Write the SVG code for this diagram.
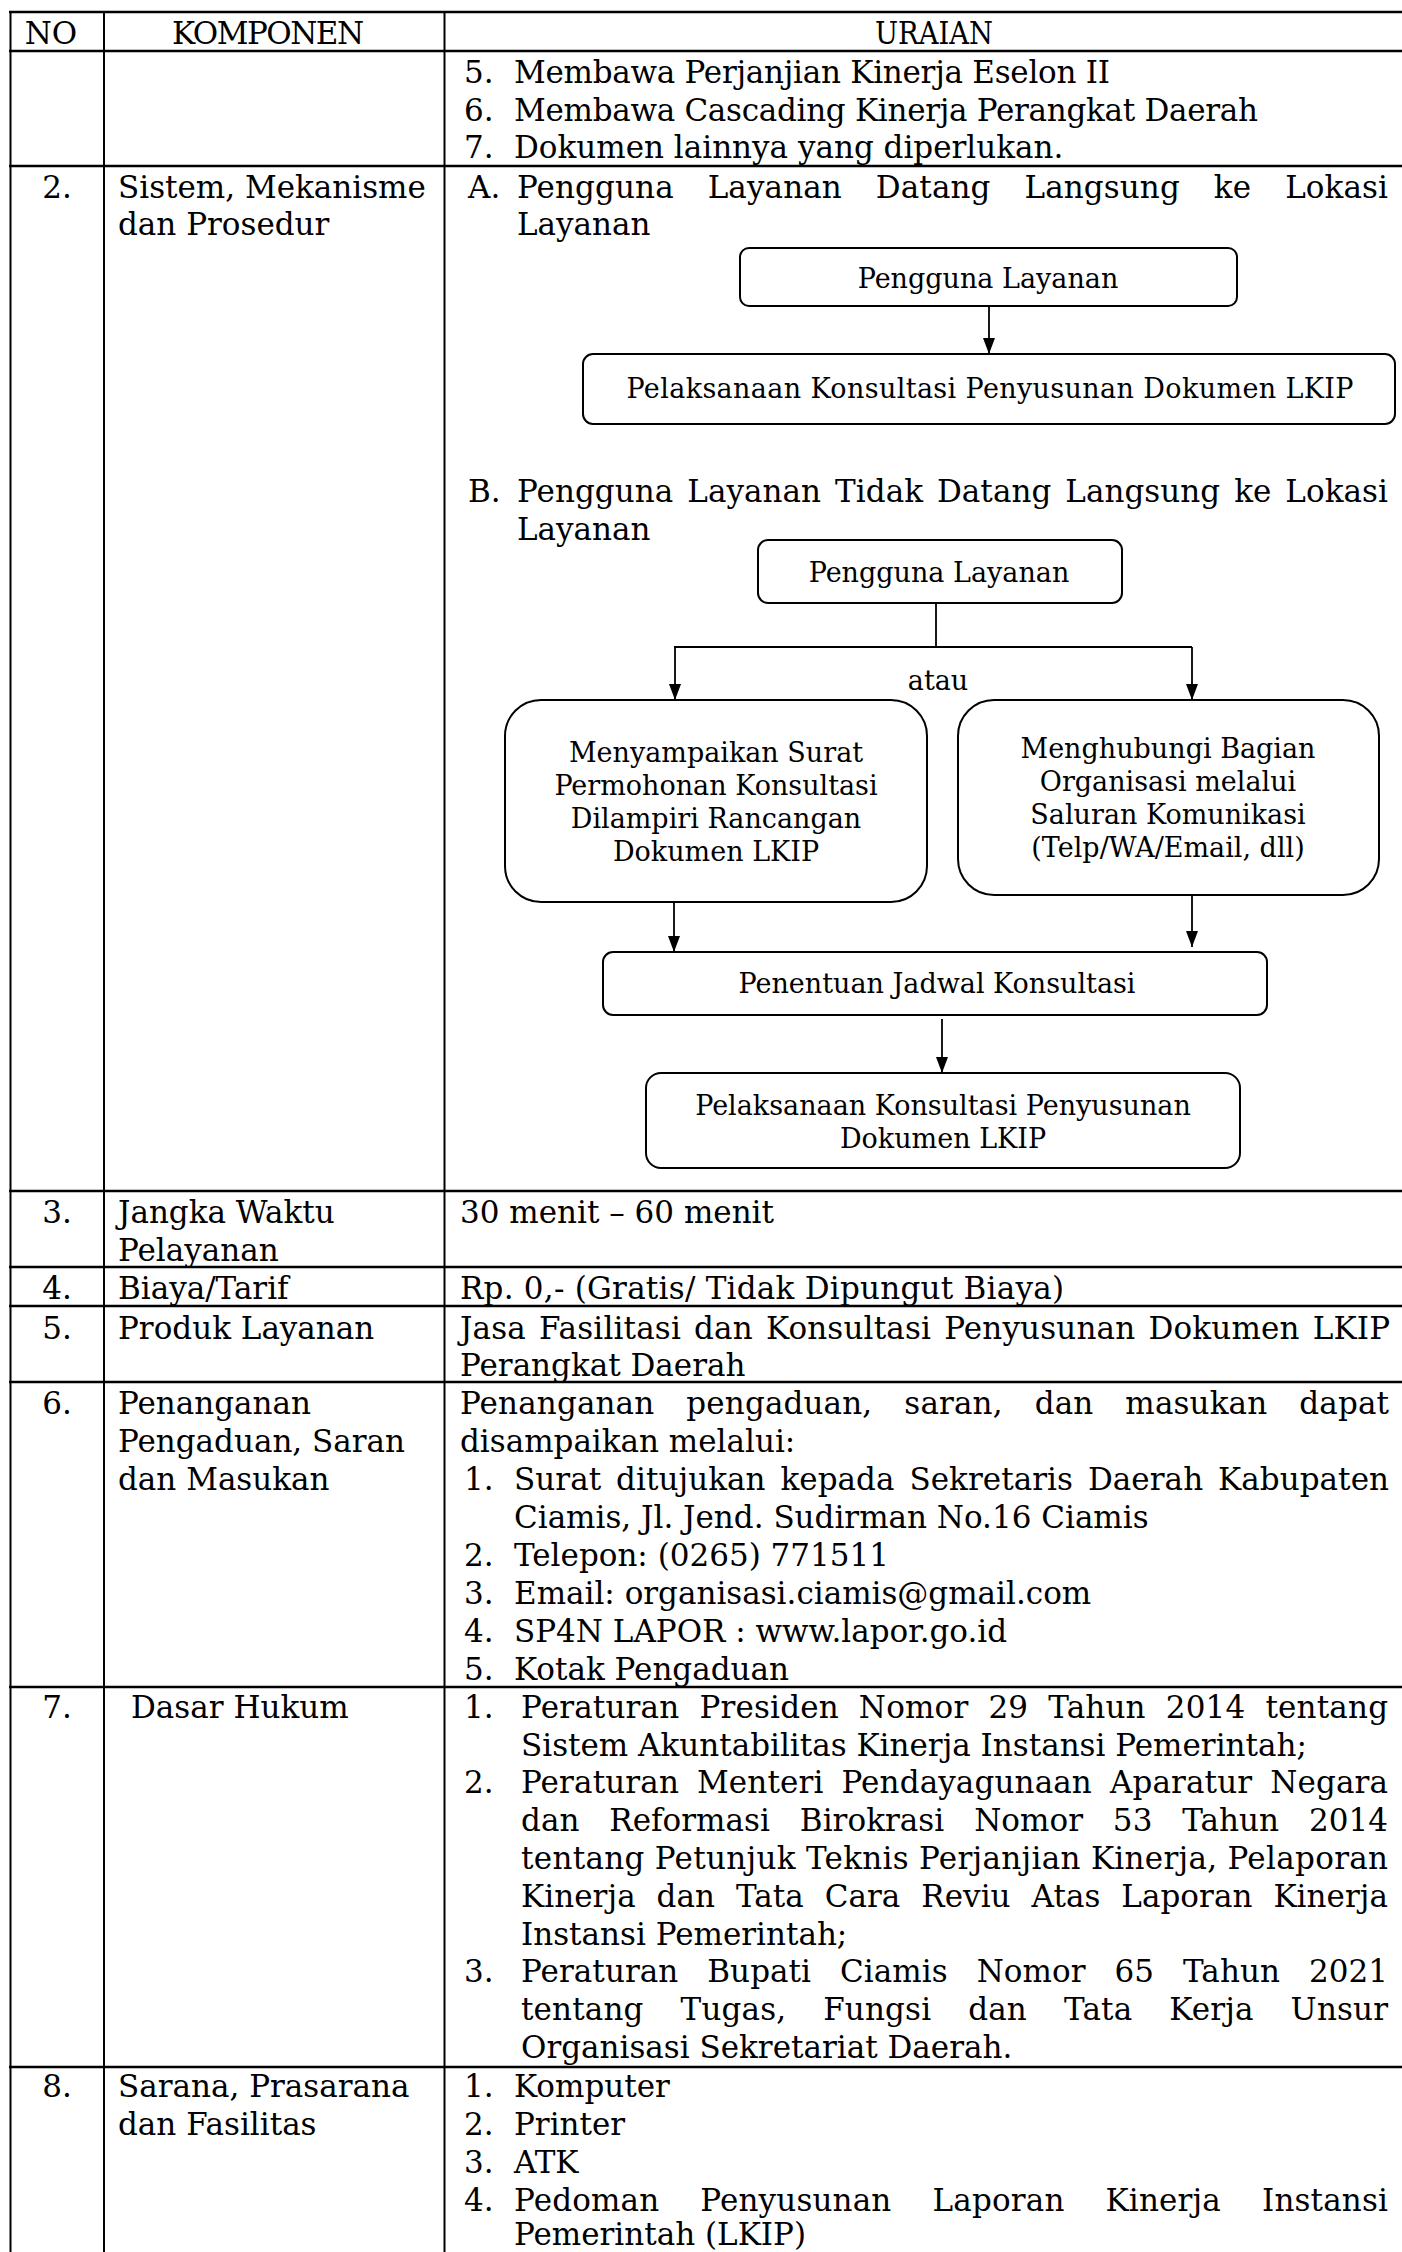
<svg xmlns="http://www.w3.org/2000/svg" width="1402" height="2252" viewBox="0 0 1402 2252">
  <defs>
    <marker id="arrowhead" viewBox="0 0 16 12" refX="16" refY="6" markerWidth="16" markerHeight="12" markerUnits="userSpaceOnUse" orient="auto">
      <path d="M0,0 L16,6 L0,12 z" fill="#000"/>
    </marker>
  </defs>
  <style>
    .t { font-family: "DejaVu Serif", "Liberation Serif", serif; font-size: 31px; fill: #000; }
    .c { text-anchor: middle; }
    .bx { font-family: "DejaVu Serif", "Liberation Serif", serif; font-size: 27px; fill: #000; text-anchor: middle; }
    .hl { stroke: #000; stroke-width: 2.6; }
    .vl { stroke: #000; stroke-width: 2; }
    .node rect { fill: #fff; stroke: #000; stroke-width: 2; }
    .conn path { fill: none; stroke: #000; stroke-width: 1.8; }
  </style>
  <rect width="1402" height="2252" fill="#fff"/>

  <!-- table rules -->
  <g id="table-grid">
    <line class="hl" x1="9" y1="12" x2="1402" y2="12"/>
    <line class="hl" x1="9" y1="51" x2="1402" y2="51"/>
    <line class="hl" x1="9" y1="166" x2="1402" y2="166"/>
    <line class="hl" x1="9" y1="1191" x2="1402" y2="1191"/>
    <line class="hl" x1="9" y1="1267" x2="1402" y2="1267"/>
    <line class="hl" x1="9" y1="1306" x2="1402" y2="1306"/>
    <line class="hl" x1="9" y1="1382" x2="1402" y2="1382"/>
    <line class="hl" x1="9" y1="1687" x2="1402" y2="1687"/>
    <line class="hl" x1="9" y1="2067" x2="1402" y2="2067"/>
    <line class="vl" x1="10.5" y1="11" x2="10.5" y2="2252"/>
    <line class="vl" x1="104" y1="11" x2="104" y2="2252"/>
    <line class="vl" x1="444.5" y1="11" x2="444.5" y2="2252"/>
  </g>

  <!-- header row -->
  <g id="header">
    <text class="t c" x="51" y="43.5">NO</text>
    <text class="t c" x="268" y="43.5" textLength="192">KOMPONEN</text>
    <text class="t c" x="934" y="43.5" textLength="118" lengthAdjust="spacingAndGlyphs">URAIAN</text>
  </g>

  <!-- row 1 (continued list) -->
  <g id="row-1">
    <text class="t" x="464" y="83">5.</text>
    <text class="t" x="514" y="83" textLength="596">Membawa Perjanjian Kinerja Eselon II</text>
    <text class="t" x="464" y="121">6.</text>
    <text class="t" x="514" y="121" textLength="744">Membawa Cascading Kinerja Perangkat Daerah</text>
    <text class="t" x="464" y="158">7.</text>
    <text class="t" x="514" y="158">Dokumen lainnya yang diperlukan.</text>
  </g>

  <!-- row 2: procedure -->
  <g id="row-2">
    <text class="t c" x="57" y="198">2.</text>
    <text class="t" x="118" y="198">Sistem, Mekanisme</text>
    <text class="t" x="118" y="235">dan Prosedur</text>
    <text class="t" x="468" y="198">A.</text>
    <text class="t" x="517" y="198" textLength="871" word-spacing="24">Pengguna Layanan Datang Langsung ke Lokasi</text>
    <text class="t" x="517" y="235">Layanan</text>
    <text class="t" x="468" y="502">B.</text>
    <text class="t" x="517" y="502" textLength="871" word-spacing="4">Pengguna Layanan Tidak Datang Langsung ke Lokasi</text>
    <text class="t" x="517" y="540">Layanan</text>
  </g>

  <!-- flow A -->
  <g id="a-pengguna" class="node">
    <rect x="740" y="248" width="497" height="58" rx="9"/>
    <text class="bx" x="988" y="288">Pengguna Layanan</text>
  </g>
  <g id="a-pelaksanaan" class="node">
    <rect x="583" y="354" width="812" height="70" rx="10"/>
    <text class="bx" x="990" y="398" textLength="727">Pelaksanaan Konsultasi Penyusunan Dokumen LKIP</text>
  </g>

  <!-- flow B -->
  <g id="b-pengguna" class="node">
    <rect x="758" y="540" width="364" height="63" rx="10"/>
    <text class="bx" x="939" y="582">Pengguna Layanan</text>
  </g>
  <g id="b-surat" class="node">
    <rect x="505" y="700" width="422" height="202" rx="36"/>
    <text class="bx" x="716" y="762">Menyampaikan Surat</text>
    <text class="bx" x="716" y="795">Permohonan Konsultasi</text>
    <text class="bx" x="716" y="828">Dilampiri Rancangan</text>
    <text class="bx" x="716" y="861">Dokumen LKIP</text>
  </g>
  <g id="b-hubungi" class="node">
    <rect x="958" y="700" width="421" height="195" rx="36"/>
    <text class="bx" x="1168" y="758">Menghubungi Bagian</text>
    <text class="bx" x="1168" y="791">Organisasi melalui</text>
    <text class="bx" x="1168" y="824">Saluran Komunikasi</text>
    <text class="bx" x="1168" y="857">(Telp/WA/Email, dll)</text>
  </g>
  <g id="b-jadwal" class="node">
    <rect x="603" y="952" width="664" height="63" rx="10"/>
    <text class="bx" x="937" y="993">Penentuan Jadwal Konsultasi</text>
  </g>
  <g id="b-pelaksanaan" class="node">
    <rect x="646" y="1073" width="594" height="95" rx="15"/>
    <text class="bx" x="943" y="1115">Pelaksanaan Konsultasi Penyusunan</text>
    <text class="bx" x="943" y="1148">Dokumen LKIP</text>
  </g>

  <!-- connectors -->
  <g id="connectors" class="conn">
    <path d="M989,306 V354" marker-end="url(#arrowhead)"/>
    <path d="M936,603 V647"/>
    <path d="M674,647 H1192"/>
    <path d="M675,647 V700" marker-end="url(#arrowhead)"/>
    <path d="M1192,647 V700" marker-end="url(#arrowhead)"/>
    <text class="bx" x="938" y="690">atau</text>
    <path d="M674,902 V952" marker-end="url(#arrowhead)"/>
    <path d="M1192,895 V947" marker-end="url(#arrowhead)"/>
    <path d="M942,1019 V1073" marker-end="url(#arrowhead)"/>
  </g>

  <!-- row 3 -->
  <g id="row-3">
    <text class="t c" x="57" y="1223">3.</text>
    <text class="t" x="118" y="1223">Jangka Waktu</text>
    <text class="t" x="118" y="1261">Pelayanan</text>
    <text class="t" x="460" y="1223">30 menit – 60 menit</text>
  </g>

  <!-- row 4 -->
  <g id="row-4">
    <text class="t c" x="57" y="1298.5">4.</text>
    <text class="t" x="118" y="1298.5">Biaya/Tarif</text>
    <text class="t" x="460" y="1298.5" textLength="604">Rp. 0,- (Gratis/ Tidak Dipungut Biaya)</text>
  </g>

  <!-- row 5 -->
  <g id="row-5">
    <text class="t c" x="57" y="1338.5">5.</text>
    <text class="t" x="118" y="1338.5">Produk Layanan</text>
    <text class="t" x="460" y="1338.5" textLength="930" word-spacing="3">Jasa Fasilitasi dan Konsultasi Penyusunan Dokumen LKIP</text>
    <text class="t" x="460" y="1375.5">Perangkat Daerah</text>
  </g>

  <!-- row 6 -->
  <g id="row-6">
    <text class="t c" x="57" y="1414">6.</text>
    <text class="t" x="118" y="1414">Penanganan</text>
    <text class="t" x="118" y="1452">Pengaduan, Saran</text>
    <text class="t" x="118" y="1490">dan Masukan</text>
    <text class="t" x="460" y="1414" textLength="929" word-spacing="22">Penanganan pengaduan, saran, dan masukan dapat</text>
    <text class="t" x="460" y="1452">disampaikan melalui:</text>
    <text class="t" x="464" y="1490">1.</text>
    <text class="t" x="514" y="1490" textLength="875" word-spacing="5">Surat ditujukan kepada Sekretaris Daerah Kabupaten</text>
    <text class="t" x="514" y="1528">Ciamis, Jl. Jend. Sudirman No.16 Ciamis</text>
    <text class="t" x="464" y="1566">2.</text>
    <text class="t" x="514" y="1566">Telepon: (0265) 771511</text>
    <text class="t" x="464" y="1604">3.</text>
    <text class="t" x="514" y="1604">Email: organisasi.ciamis@gmail.com</text>
    <text class="t" x="464" y="1642">4.</text>
    <text class="t" x="514" y="1642">SP4N LAPOR : www.lapor.go.id</text>
    <text class="t" x="464" y="1680">5.</text>
    <text class="t" x="514" y="1680">Kotak Pengaduan</text>
  </g>

  <!-- row 7 -->
  <g id="row-7">
    <text class="t c" x="57" y="1718">7.</text>
    <text class="t" x="131" y="1718">Dasar Hukum</text>
    <text class="t" x="464" y="1718">1.</text>
    <text class="t" x="521" y="1718" textLength="867" word-spacing="10">Peraturan Presiden Nomor 29 Tahun 2014 tentang</text>
    <text class="t" x="521" y="1756">Sistem Akuntabilitas Kinerja Instansi Pemerintah;</text>
    <text class="t" x="464" y="1793">2.</text>
    <text class="t" x="521" y="1793" textLength="867" word-spacing="8">Peraturan Menteri Pendayagunaan Aparatur Negara</text>
    <text class="t" x="521" y="1831" textLength="867" word-spacing="20">dan Reformasi Birokrasi Nomor 53 Tahun 2014</text>
    <text class="t" x="521" y="1869" textLength="867">tentang Petunjuk Teknis Perjanjian Kinerja, Pelaporan</text>
    <text class="t" x="521" y="1907" textLength="867" word-spacing="11">Kinerja dan Tata Cara Reviu Atas Laporan Kinerja</text>
    <text class="t" x="521" y="1945">Instansi Pemerintah;</text>
    <text class="t" x="464" y="1982">3.</text>
    <text class="t" x="521" y="1982" textLength="867" word-spacing="19">Peraturan Bupati Ciamis Nomor 65 Tahun 2021</text>
    <text class="t" x="521" y="2020" textLength="867" word-spacing="27">tentang Tugas, Fungsi dan Tata Kerja Unsur</text>
    <text class="t" x="521" y="2058">Organisasi Sekretariat Daerah.</text>
  </g>

  <!-- row 8 -->
  <g id="row-8">
    <text class="t c" x="57" y="2097">8.</text>
    <text class="t" x="118" y="2097">Sarana, Prasarana</text>
    <text class="t" x="118" y="2135">dan Fasilitas</text>
    <text class="t" x="464" y="2097">1.</text>
    <text class="t" x="514" y="2097">Komputer</text>
    <text class="t" x="464" y="2135">2.</text>
    <text class="t" x="514" y="2135">Printer</text>
    <text class="t" x="464" y="2173">3.</text>
    <text class="t" x="514" y="2173">ATK</text>
    <text class="t" x="464" y="2211">4.</text>
    <text class="t" x="514" y="2211" textLength="874" word-spacing="31">Pedoman Penyusunan Laporan Kinerja Instansi</text>
    <text class="t" x="514" y="2245">Pemerintah (LKIP)</text>
  </g>
</svg>
